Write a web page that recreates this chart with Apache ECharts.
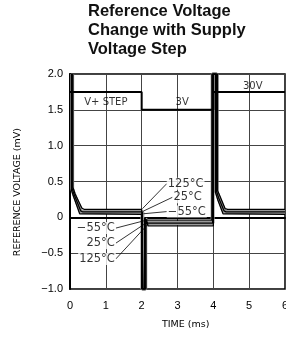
<!DOCTYPE html>
<html>
<head>
<meta charset="utf-8">
<script src="https://cdn.jsdelivr.net/npm/echarts@6/dist/echarts.min.js"></script>
<style>
html, body { margin: 0; padding: 0; background: #fff; }
#main { width: 286px; height: 343px; }
</style>
</head>
<body>
<div id="main"></div>
<script>
// data (time in ms, voltage in mV)
var stepWave = [[0, 1.75], [2, 1.75], [2, 1.5], [4, 1.5], [4, 1.75], [6, 1.75]];
var stepLabels = [
    { name: 'V+ STEP', value: [1.0, 1.6] },
    { name: '3V', value: [3.13, 1.6] },
    { name: '30V', value: [5.1, 1.82] }
];
var curve125 = [[0.08, 2.0], [0.08, 0.42], [0.14, 0.33], [0.33, 0.13], [0.4, 0.11], [2.0, 0.11], [2.04, 0.11], [2.04, -1.0],
    [2.12, -1.0], [2.12, -0.03], [2.18, -0.12], [4.0, -0.12], [4.0, 2.0], [4.12, 2.0], [4.12, 0.37], [4.18, 0.3], [4.33, 0.12], [4.4, 0.11], [6, 0.11]];
var curve25 = [[0.06, 2.0], [0.06, 0.4], [0.12, 0.31], [0.3, 0.09], [0.36, 0.075], [2.02, 0.075], [2.02, -1.0],
    [2.1, -1.0], [2.1, -0.02], [2.16, -0.08], [3.98, -0.08], [3.98, 2.0], [4.09, 2.0], [4.09, 0.36], [4.15, 0.27], [4.3, 0.09], [4.36, 0.075], [6, 0.075]];
var curve55 = [[0.04, 2.0], [0.04, 0.38], [0.1, 0.29], [0.27, 0.05], [0.32, 0.04], [2.0, 0.04], [2.0, -1.0],
    [2.08, -1.0], [2.08, -0.01], [2.13, -0.04], [3.96, -0.04], [3.96, 2.0], [4.06, 2.0], [4.06, 0.35], [4.12, 0.25], [4.27, 0.05], [4.32, 0.04], [6, 0.04]];
// temperature labels: [label point, point on curve]
var posLabels = ['125°C', '25°C', '−55°C'];
var posLeaders = [
    [[2.7, 0.47], [2.02, 0.12]],
    [[2.86, 0.28], [2.04, 0.085]],
    [[2.7, 0.08], [2.05, 0.05]]
];
var negLabels = ['−55°C', '25°C', '125°C'];
var negLeaders = [
    [[1.28, -0.15], [2.13, -0.04]],
    [[1.28, -0.36], [2.15, -0.07]],
    [[1.28, -0.58], [2.17, -0.1]]
];
var yTicks = { '2': '2.0', '1.5': '1.5', '1': '1.0', '0.5': '0.5', '0': '0', '-0.5': '−0.5', '-1': '−1.0' };

const Chart = echarts.init(document.getElementById('main'), null, { renderer: 'canvas' });

var tempFont = { fontFamily: 'DejaVu Sans', fontSize: 11.5, color: '#000', backgroundColor: '#fff', padding: [0, 1] };

var series = [];
// supply step
series.push({
    type: 'line', data: stepWave, symbol: 'none', silent: true,
    lineStyle: { color: '#000', width: 2 }
});
series.push({
    type: 'scatter', data: stepLabels, symbolSize: 0, silent: true,
    label: {
        show: true, position: 'inside', formatter: '{b}',
        fontFamily: 'DejaVu Sans', fontSize: 10, color: '#000'
    }
});
// gray band behind the curves, then the three temperature curves
series.push({
    type: 'line', data: curve25, symbol: 'none', silent: true, z: 2,
    lineStyle: { color: '#999', width: 4 }
});
[curve125, curve25, curve55].forEach(function (c) {
    series.push({
        type: 'line', data: c, symbol: 'none', silent: true, z: 3,
        lineStyle: { color: '#000', width: 1.3 }
    });
});
// leader lines
posLeaders.concat(negLeaders).forEach(function (p) {
    series.push({
        type: 'line', data: p, symbol: 'none', silent: true, z: 4,
        lineStyle: { color: '#000', width: 0.8 }
    });
});
// temperature texts
series.push({
    type: 'scatter', symbolSize: 0, silent: true, z: 5,
    data: posLeaders.map(function (p, i) { return { name: posLabels[i], value: p[0] }; }),
    label: Object.assign({ show: true, position: 'right', distance: 0, formatter: '{b}' }, tempFont)
});
series.push({
    type: 'scatter', symbolSize: 0, silent: true, z: 5,
    data: negLeaders.map(function (p, i) { return { name: negLabels[i], value: p[0] }; }),
    label: Object.assign({ show: true, position: 'left', distance: 0, formatter: '{b}' }, tempFont)
});

var option = {
    animation: false,
    title: {
        text: 'Reference Voltage\nChange with Supply\nVoltage Step',
        left: 83, top: -3,
        textStyle: { fontFamily: 'Liberation Sans', fontWeight: 'bold', fontSize: 16.5, lineHeight: 19, color: '#111' }
    },
    grid: { left: 70, right: 1, top: 74, bottom: 54, containLabel: false, outerBoundsMode: 'none', show: true, borderColor: '#000', borderWidth: 1.5 },
    xAxis: {
        type: 'value', min: 0, max: 6, interval: 1,
        axisLine: { show: true, lineStyle: { color: '#000', width: 2 } },
        axisTick: { show: false },
        splitLine: { show: true, lineStyle: { color: '#444', width: 1 } },
        axisLabel: { fontFamily: 'Liberation Sans', fontSize: 11, color: '#000', margin: 11, showMaxLabel: true }
    },
    yAxis: {
        type: 'value', min: -1, max: 2, interval: 0.5,
        axisLine: { show: true, lineStyle: { color: '#000', width: 2 } },
        axisTick: { show: false },
        splitLine: { show: true, lineStyle: { color: '#444', width: 1 } },
        axisLabel: {
            fontFamily: 'Liberation Sans', fontSize: 11, color: '#000', margin: 7,
            formatter: function (v) { return yTicks[String(v)]; }
        }
    },
    graphic: [
        {
            type: 'text', left: 13, top: 128, rotation: Math.PI / 2,
            style: { text: 'REFERENCE VOLTAGE (mV)', fontFamily: 'DejaVu Sans', fontSize: 9.5, fill: '#000' }
        },
        {
            type: 'text', left: 162, top: 320,
            style: { text: 'TIME (ms)', fontFamily: 'DejaVu Sans', fontSize: 9.5, fill: '#000' }
        }
    ],
    series: series
};
Chart.setOption(option);
</script>
</body>
</html>
